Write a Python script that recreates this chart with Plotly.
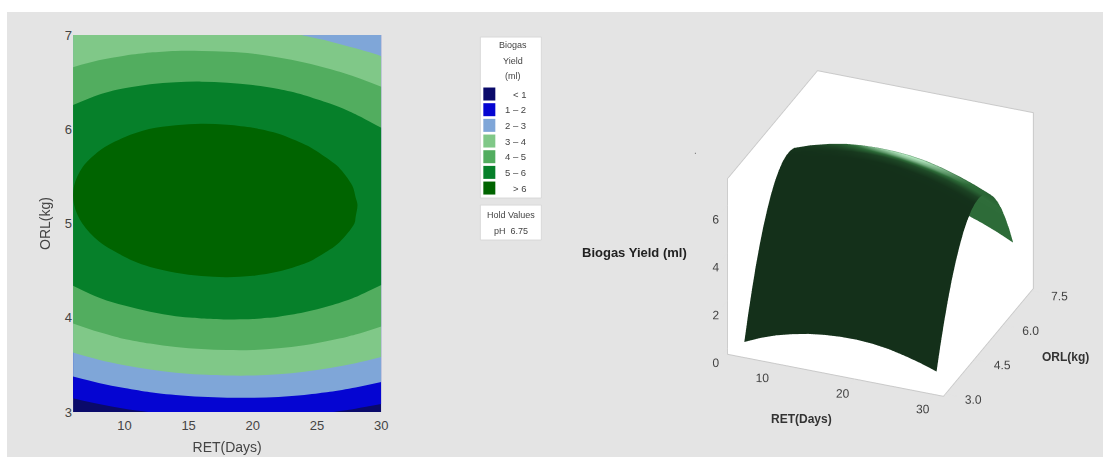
import numpy as np
import plotly.graph_objects as go

W, H = 1103, 457

ret_days = [6, 8, 10, 12, 14, 16, 18, 20, 22, 24, 26, 28, 30]
orl_kg = [3.0, 3.2, 3.4, 3.6, 3.8, 4.0, 4.2, 4.4, 4.6, 4.8, 5.0,
          5.2, 5.4, 5.6, 5.8, 6.0, 6.2, 6.4, 6.6, 6.8, 7.0]
biogas_yield = [
    [0.29, 0.59, 0.83, 1.01, 1.15, 1.24, 1.29, 1.30, 1.26, 1.17, 1.02, 0.84, 0.62],
    [1.25, 1.54, 1.77, 1.96, 2.09, 2.18, 2.22, 2.22, 2.18, 2.08, 1.94, 1.75, 1.52],
    [2.10, 2.39, 2.62, 2.80, 2.93, 3.01, 3.05, 3.05, 3.00, 2.90, 2.75, 2.56, 2.33],
    [2.89, 3.17, 3.40, 3.57, 3.70, 3.77, 3.81, 3.81, 3.75, 3.65, 3.49, 3.30, 3.06],
    [3.57, 3.85, 4.08, 4.25, 4.37, 4.44, 4.47, 4.46, 4.40, 4.29, 4.13, 3.94, 3.70],
    [4.18, 4.46, 4.67, 4.84, 4.96, 5.02, 5.05, 5.04, 4.97, 4.86, 4.70, 4.49, 4.25],
    [4.69, 4.97, 5.18, 5.34, 5.45, 5.52, 5.54, 5.52, 5.45, 5.34, 5.17, 4.96, 4.71],
    [5.13, 5.40, 5.61, 5.77, 5.87, 5.93, 5.95, 5.93, 5.86, 5.73, 5.56, 5.35, 5.10],
    [5.48, 5.74, 5.94, 6.10, 6.20, 6.26, 6.27, 6.24, 6.17, 6.04, 5.87, 5.65, 5.39],
    [5.73, 5.99, 6.19, 6.34, 6.44, 6.49, 6.50, 6.47, 6.39, 6.26, 6.08, 5.86, 5.60],
    [5.91, 6.16, 6.36, 6.50, 6.60, 6.64, 6.65, 6.62, 6.53, 6.40, 6.21, 5.99, 5.72],
    [5.99, 6.24, 6.43, 6.57, 6.67, 6.71, 6.71, 6.67, 6.57, 6.44, 6.25, 6.02, 5.75],
    [5.99, 6.24, 6.42, 6.56, 6.65, 6.68, 6.68, 6.64, 6.54, 6.40, 6.21, 5.97, 5.70],
    [5.91, 6.15, 6.33, 6.46, 6.55, 6.58, 6.57, 6.52, 6.42, 6.28, 6.08, 5.84, 5.56],
    [5.73, 5.97, 6.15, 6.28, 6.35, 6.38, 6.37, 6.32, 6.22, 6.06, 5.86, 5.62, 5.34],
    [5.48, 5.71, 5.89, 6.01, 6.08, 6.11, 6.09, 6.03, 5.93, 5.77, 5.56, 5.32, 5.03],
    [5.12, 5.35, 5.52, 5.64, 5.71, 5.73, 5.71, 5.65, 5.54, 5.38, 5.17, 4.92, 4.63],
    [4.70, 4.93, 5.09, 5.21, 5.27, 5.29, 5.26, 5.19, 5.08, 4.91, 4.70, 4.44, 4.15],
    [4.18, 4.40, 4.56, 4.67, 4.73, 4.74, 4.71, 4.64, 4.52, 4.35, 4.13, 3.87, 3.57],
    [3.57, 3.79, 3.94, 4.05, 4.11, 4.11, 4.08, 4.01, 3.88, 3.71, 3.49, 3.22, 2.92],
    [3.02, 3.12, 3.24, 3.34, 3.40, 3.40, 3.36, 3.28, 3.15, 2.98, 2.75, 2.48, 2.17],
]
band_labels = ["< 1", "1 – 2", "2 – 3", "3 – 4", "4 – 5", "5 – 6", "> 6"]
band_colors = ["#0a0a6a", "#0505d2", "#7fa6d8", "#80c888", "#52ad5f", "#06802a", "#006400"]
legend_title = ["Biogas", "Yield", "(ml)"]
hold_text = ["Hold Values", "pH  6.75"]

X_RANGE = [4.15, 31.1]
Y_RANGE = [2.9, 7.6]
Z_RANGE = [-0.25, 7.1]
ASPECT = dict(x=1.09, y=1.128, z=0.94)


def px(x):
    return (x / 0.993) / W


def py(y):
    return 1 - ((y - 7) / 0.967) / H


n = len(band_colors)
scale = []
for i, c in enumerate(band_colors):
    scale += [[i / n, c], [(i + 1) / n, c]]

# Shading of the 3-D surface (baked in: a matte dark front, a lit rear and one highlight)
Z = np.array(biogas_yield)
dz_dy, dz_dx = np.gradient(Z, orl_kg, ret_days)
zs = ASPECT["z"] / (Z_RANGE[1] - Z_RANGE[0])
gx = dz_dx * zs / (ASPECT["x"] / (X_RANGE[1] - X_RANGE[0]))
gy = dz_dy * zs / (ASPECT["y"] / (Y_RANGE[1] - Y_RANGE[0]))
norm = np.sqrt(gx ** 2 + gy ** 2 + 1)
nx, ny, nz = -gx / norm, -gy / norm, 1 / norm
hl = np.array([0.13, 0.33, 0.93])
hl = hl / np.linalg.norm(hl)
shade = 0.45 * np.clip((ny - 0.45) * 3, 0, 1) + np.clip(nx * hl[0] + ny * hl[1] + nz * hl[2], 0, 1) ** 24
shade = np.clip(shade, 0, 1)

fig = go.Figure()
fig.add_trace(go.Contour(
    x=ret_days, y=orl_kg, z=biogas_yield, zmin=0, zmax=n,
    colorscale=scale, showscale=False, hoverinfo="skip",
    autocontour=False, contours=dict(start=1, end=6, size=1, coloring="fill"),
    line=dict(width=0, smoothing=1.0),
))
fig.add_trace(go.Surface(
    x=ret_days, y=orl_kg, z=biogas_yield, scene="scene", surfacecolor=shade, cmin=0, cmax=1,
    colorscale=[[0, "#14301a"], [0.45, "#2d6b38"], [1, "#c4f5d0"]], showscale=False, hoverinfo="skip",
    lighting=dict(ambient=1.0, diffuse=0.0, specular=0.0, roughness=1.0, fresnel=0.0),
))

shapes = []
for y0, y1 in [(37, 198), (205, 240)]:
    shapes.append(dict(type="rect", xref="paper", yref="paper", layer="above",
                       x0=px(480), x1=px(541), y0=py(y0), y1=py(y1),
                       fillcolor="white", line=dict(color="#d8d8d8", width=1)))

ann = []


def text(x, y, s, size=9, color="#444", anchor="center", bold=False, family="Liberation Sans"):
    ann.append(dict(xref="paper", yref="paper", x=px(x), y=py(y), text=f"<b>{s}</b>" if bold else s,
                    showarrow=False, xanchor=anchor, yanchor="middle",
                    font=dict(size=size, color=color, family=family)))


for s, y in zip(legend_title, [45, 61, 76]):
    text(513, y, s)
for i, (lab, c) in enumerate(zip(band_labels, band_colors)):
    yc = 94 + i * 15.67
    shapes.append(dict(type="rect", xref="paper", yref="paper", layer="above", line_width=0,
                       x0=px(483), x1=px(495), y0=py(yc - 6.5), y1=py(yc + 6.5), fillcolor=c))
    text(528, yc, lab, anchor="right", size=9.5)
for s, y in zip(hold_text, [215, 231]):
    text(511, y, s)

text(634, 252, "Biogas Yield (ml)", size=13, color="#222", bold=True)
text(801, 419, "RET(Days)", size=12, color="#333", bold=True)
text(1065, 357, "ORL(kg)", size=12, color="#333", bold=True)
text(695, 150, ".", size=10, color="#777")

axfont = dict(size=12, color="#444", family="Liberation Sans")
edge = "#c9c9c9"
GRAY = "#e4e4e4"


def scene_axis(rng, vals, labels=None, ticklen=10):
    return dict(range=rng, tickvals=vals, ticktext=labels, title=dict(text=""), tickangle=0,
                showgrid=False, zeroline=False, showbackground=True, backgroundcolor="white",
                showline=True, linecolor=edge, linewidth=2, mirror=True, ticks="outside",
                ticklen=ticklen, tickcolor=GRAY, tickfont=axfont, showspikes=False)


fig.update_layout(
    width=W, height=H, margin=dict(l=0, r=0, t=0, b=0), paper_bgcolor="rgba(0,0,0,0)",
    plot_bgcolor=GRAY, showlegend=False, shapes=shapes, annotations=ann,
    font=dict(family="Liberation Sans"),
    xaxis=dict(domain=[px(73), px(381)], range=[6, 30], tickvals=[10, 15, 20, 25, 30],
               showgrid=False, zeroline=False, ticks="outside", ticklen=1, tickcolor=GRAY,
               tickfont=dict(size=13, color="#444"),
               title=dict(text="RET(Days)", font=dict(size=14, color="#444"), standoff=10)),
    yaxis=dict(domain=[py(412), py(35)], range=[3, 7], tickvals=[3, 4, 5, 6, 7],
               showgrid=False, zeroline=False, ticks="", tickfont=dict(size=13, color="#444"),
               title=dict(text="ORL(kg)", font=dict(size=14, color="#444"), standoff=10)),
    scene=dict(
        domain=dict(x=[px(666), px(1095)], y=[py(447), py(20)]),
        bgcolor="rgba(0,0,0,0)",
        aspectmode="manual", aspectratio=ASPECT,
        xaxis=scene_axis(X_RANGE, [10, 20, 30], ticklen=12),
        yaxis=scene_axis(Y_RANGE, [3, 4.5, 6, 7.5], ["3.0", "4.5", "6.0", "7.5"], ticklen=14),
        zaxis=scene_axis(Z_RANGE, [0, 2, 4, 6], ticklen=70),
        camera=dict(projection=dict(type="orthographic"),
                    up=dict(x=0, y=0, z=1), center=dict(x=0, y=0, z=0),
                    eye=dict(x=0.327 * 1.62, y=-0.812 * 1.62, z=0.483 * 1.62)),
    ),
)
page_bg = ("linear-gradient(white,white) 0 0/100% 12px no-repeat,"
           "linear-gradient(white,white) 0 0/7px 100% no-repeat,#e4e4e4")
fig.write_html(
    "out.html",
    config=dict(displayModeBar=False),
    post_script=("document.documentElement.style.margin='0';document.body.style.margin='0';"
                 "document.documentElement.style.overflow='hidden';document.body.style.overflow='hidden';"
                 f"document.documentElement.style.background='{page_bg}';"
                 "document.body.style.background='transparent';"),
)
